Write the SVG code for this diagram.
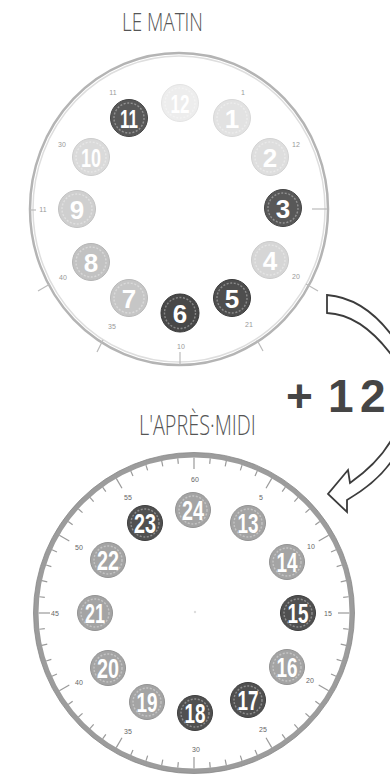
<svg xmlns="http://www.w3.org/2000/svg" xmlns:xlink="http://www.w3.org/1999/xlink" width="390" height="777" viewBox="0 0 390 777">
<style>
.title{font-family:"Open Sans","DejaVu Sans",sans-serif;font-weight:300;fill:#555;}
.d{font-family:"Liberation Sans",Arial,sans-serif;font-weight:bold;fill:#fff;text-anchor:middle;}
.ring{fill:none;stroke:#fff;stroke-opacity:0.35;stroke-width:1.4;stroke-dasharray:2 1.6;}
.m{font-family:"Liberation Sans",Arial,sans-serif;font-size:7px;fill:#666;text-anchor:middle;}
.mt{font-family:"Liberation Sans",Arial,sans-serif;font-size:7px;fill:#999;text-anchor:middle;}
.tk{stroke:#9a9a9a;stroke-width:1.2;}
.tkt{stroke:#bbb;stroke-width:1.2;}
.arrow{fill:#fff;stroke:#3c3c3c;stroke-width:1.8;stroke-linejoin:miter;}
.dark{fill:#505050;stroke:#3e3e3e;stroke-width:1;}
.mid{fill:#a4a4a4;stroke:#939393;stroke-width:1;}
</style>
<defs>
<line id="tk" class="tk" x1="194" y1="457.5" x2="194" y2="463"/>
<line id="tkM" class="tk" x1="194" y1="457.5" x2="194" y2="469"/>
</defs>

<!-- Titles -->
<text id="title-matin" class="title" transform="scale(0.66 1)" x="184.8" y="31" font-size="26" textLength="122.7" lengthAdjust="spacingAndGlyphs">LE MATIN</text>
<text id="title-apresmidi" class="title" transform="scale(0.66 1)" x="210.6" y="435" font-size="27" textLength="177" lengthAdjust="spacingAndGlyphs">L'APRÈS·MIDI</text>

<!-- Top clock -->
<g id="clock-matin">
<ellipse cx="179" cy="209" rx="149" ry="156" fill="#fff" stroke="#b4b4b4" stroke-width="2.5"/>
<ellipse cx="179" cy="209" rx="146" ry="153" fill="none" stroke="#dedede" stroke-width="1.5"/>
<line class="tkt" x1="180" y1="352" x2="180" y2="365"/>
<line class="tkt" x1="103" y1="340" x2="97" y2="352"/>
<line class="tkt" x1="257" y1="340" x2="263" y2="351"/>
<line class="tkt" x1="50" y1="284" x2="38" y2="291"/>
<line class="tkt" x1="306" y1="284" x2="318" y2="291"/>
<line class="tkt" x1="312" y1="209" x2="327" y2="209"/>
<line class="tkt" x1="36" y1="210" x2="30" y2="210"/>
<text class="mt" x="113" y="95">11</text>
<text class="mt" x="243" y="95">1</text>
<text class="mt" x="296" y="147">12</text>
<text class="mt" x="62" y="147">30</text>
<text class="mt" x="43" y="212">11</text>
<text class="mt" x="63" y="280">40</text>
<text class="mt" x="112" y="329">35</text>
<text class="mt" x="181" y="349">10</text>
<text class="mt" x="249" y="327">21</text>
<text class="mt" x="296" y="279">20</text>
</g>

<g id="h12"><circle cx="180" cy="103" r="18.5" fill="#ededed" stroke="#e4e4e4"/><circle class="ring" cx="180" cy="103" r="15"/><text class="d" x="180" y="112.5" font-size="26" textLength="19" lengthAdjust="spacingAndGlyphs">12</text></g>
<g id="h1"><circle cx="232" cy="118" r="18.5" fill="#e2e2e2" stroke="#d8d8d8"/><circle class="ring" cx="232" cy="118" r="15"/><text class="d" x="232" y="127.5" font-size="26">1</text></g>
<g id="h2"><circle cx="270" cy="157" r="18.5" fill="#dedede" stroke="#d2d2d2"/><circle class="ring" cx="270" cy="157" r="15"/><text class="d" x="270" y="166.5" font-size="26">2</text></g>
<g id="h3"><circle cx="283" cy="208" r="18.5" fill="#585858" stroke="#444"/><circle class="ring" cx="283" cy="208" r="15"/><text class="d" x="283" y="217.5" font-size="26">3</text></g>
<g id="h4"><circle cx="270" cy="260" r="18.5" fill="#d6d6d6" stroke="#cacaca"/><circle class="ring" cx="270" cy="260" r="15"/><text class="d" x="270" y="269.5" font-size="26">4</text></g>
<g id="h5"><circle cx="232" cy="298" r="18.5" fill="#4e4e4e" stroke="#3a3a3a"/><circle class="ring" cx="232" cy="298" r="15"/><text class="d" x="232" y="307.5" font-size="26">5</text></g>
<g id="h6"><circle cx="180" cy="313" r="19" fill="#484848" stroke="#363636"/><circle class="ring" cx="180" cy="313" r="15.5"/><text class="d" x="180" y="322.5" font-size="26">6</text></g>
<g id="h7"><circle cx="129" cy="298" r="18.5" fill="#c6c6c6" stroke="#b8b8b8"/><circle class="ring" cx="129" cy="298" r="15"/><text class="d" x="129" y="307.5" font-size="26">7</text></g>
<g id="h8"><circle cx="91" cy="262" r="18.5" fill="#c2c2c2" stroke="#b4b4b4"/><circle class="ring" cx="91" cy="262" r="15"/><text class="d" x="91" y="271.5" font-size="26">8</text></g>
<g id="h9"><circle cx="77" cy="209" r="18.5" fill="#cfcfcf" stroke="#c2c2c2"/><circle class="ring" cx="77" cy="209" r="15"/><text class="d" x="77" y="218.5" font-size="26">9</text></g>
<g id="h10"><circle cx="91" cy="157" r="18.5" fill="#dadada" stroke="#cdcdcd"/><circle class="ring" cx="91" cy="157" r="15"/><text class="d" x="91" y="166.5" font-size="26" textLength="20" lengthAdjust="spacingAndGlyphs">10</text></g>
<g id="h11"><circle cx="129" cy="118" r="18.5" fill="#585858" stroke="#444"/><circle class="ring" cx="129" cy="118" r="15"/><text class="d" x="129" y="127.5" font-size="26" textLength="18" lengthAdjust="spacingAndGlyphs">11</text></g>

<!-- Connectors: curved arrows -->
<g id="connectors">
<path class="arrow" d="M327,295 C352,297 374,311 393,337 L393,357 C374,331 352,314 327,313 Z"/>
<path class="arrow" d="M393,437 C383,456 367,471 350,483 L348,470 L328,494 L347,512 L347,500 C366,489 382,476 393,459 Z"/>
</g>
<text id="plus12" x="286" y="412" font-family="'Liberation Sans',Arial,sans-serif" font-weight="bold" font-size="46" fill="#454545"><tspan x="286">+</tspan><tspan x="328">1</tspan><tspan x="360">2</tspan></text>

<!-- Bottom clock -->
<g id="clock-apresmidi">
<circle cx="194" cy="613" r="158" fill="#fff" stroke="#9c9c9c" stroke-width="5"/>
<circle cx="194" cy="613" r="160.5" fill="none" stroke="#888" stroke-width="0.8"/>
<use xlink:href="#tkM"/>
<use xlink:href="#tk" transform="rotate(6 194 613)"/>
<use xlink:href="#tk" transform="rotate(12 194 613)"/>
<use xlink:href="#tk" transform="rotate(18 194 613)"/>
<use xlink:href="#tk" transform="rotate(24 194 613)"/>
<use xlink:href="#tkM" transform="rotate(30 194 613)"/>
<use xlink:href="#tk" transform="rotate(36 194 613)"/>
<use xlink:href="#tk" transform="rotate(42 194 613)"/>
<use xlink:href="#tk" transform="rotate(48 194 613)"/>
<use xlink:href="#tk" transform="rotate(54 194 613)"/>
<use xlink:href="#tkM" transform="rotate(60 194 613)"/>
<use xlink:href="#tk" transform="rotate(66 194 613)"/>
<use xlink:href="#tk" transform="rotate(72 194 613)"/>
<use xlink:href="#tk" transform="rotate(78 194 613)"/>
<use xlink:href="#tk" transform="rotate(84 194 613)"/>
<use xlink:href="#tkM" transform="rotate(90 194 613)"/>
<use xlink:href="#tk" transform="rotate(96 194 613)"/>
<use xlink:href="#tk" transform="rotate(102 194 613)"/>
<use xlink:href="#tk" transform="rotate(108 194 613)"/>
<use xlink:href="#tk" transform="rotate(114 194 613)"/>
<use xlink:href="#tkM" transform="rotate(120 194 613)"/>
<use xlink:href="#tk" transform="rotate(126 194 613)"/>
<use xlink:href="#tk" transform="rotate(132 194 613)"/>
<use xlink:href="#tk" transform="rotate(138 194 613)"/>
<use xlink:href="#tk" transform="rotate(144 194 613)"/>
<use xlink:href="#tkM" transform="rotate(150 194 613)"/>
<use xlink:href="#tk" transform="rotate(156 194 613)"/>
<use xlink:href="#tk" transform="rotate(162 194 613)"/>
<use xlink:href="#tk" transform="rotate(168 194 613)"/>
<use xlink:href="#tk" transform="rotate(174 194 613)"/>
<use xlink:href="#tkM" transform="rotate(180 194 613)"/>
<use xlink:href="#tk" transform="rotate(186 194 613)"/>
<use xlink:href="#tk" transform="rotate(192 194 613)"/>
<use xlink:href="#tk" transform="rotate(198 194 613)"/>
<use xlink:href="#tk" transform="rotate(204 194 613)"/>
<use xlink:href="#tkM" transform="rotate(210 194 613)"/>
<use xlink:href="#tk" transform="rotate(216 194 613)"/>
<use xlink:href="#tk" transform="rotate(222 194 613)"/>
<use xlink:href="#tk" transform="rotate(228 194 613)"/>
<use xlink:href="#tk" transform="rotate(234 194 613)"/>
<use xlink:href="#tkM" transform="rotate(240 194 613)"/>
<use xlink:href="#tk" transform="rotate(246 194 613)"/>
<use xlink:href="#tk" transform="rotate(252 194 613)"/>
<use xlink:href="#tk" transform="rotate(258 194 613)"/>
<use xlink:href="#tk" transform="rotate(264 194 613)"/>
<use xlink:href="#tkM" transform="rotate(270 194 613)"/>
<use xlink:href="#tk" transform="rotate(276 194 613)"/>
<use xlink:href="#tk" transform="rotate(282 194 613)"/>
<use xlink:href="#tk" transform="rotate(288 194 613)"/>
<use xlink:href="#tk" transform="rotate(294 194 613)"/>
<use xlink:href="#tkM" transform="rotate(300 194 613)"/>
<use xlink:href="#tk" transform="rotate(306 194 613)"/>
<use xlink:href="#tk" transform="rotate(312 194 613)"/>
<use xlink:href="#tk" transform="rotate(318 194 613)"/>
<use xlink:href="#tk" transform="rotate(324 194 613)"/>
<use xlink:href="#tkM" transform="rotate(330 194 613)"/>
<use xlink:href="#tk" transform="rotate(336 194 613)"/>
<use xlink:href="#tk" transform="rotate(342 194 613)"/>
<use xlink:href="#tk" transform="rotate(348 194 613)"/>
<use xlink:href="#tk" transform="rotate(354 194 613)"/>
<text class="m" x="195" y="482">60</text>
<text class="m" x="261" y="500">5</text>
<text class="m" x="311" y="549">10</text>
<text class="m" x="328" y="616">15</text>
<text class="m" x="310" y="683">20</text>
<text class="m" x="263" y="732">25</text>
<text class="m" x="196" y="752">30</text>
<text class="m" x="128" y="734">35</text>
<text class="m" x="79" y="685">40</text>
<text class="m" x="55" y="616">45</text>
<text class="m" x="79" y="550">50</text>
<text class="m" x="128" y="500">55</text>
<circle cx="195" cy="612" r="1.2" fill="#ddd"/>
</g>

<g id="h24"><circle class="mid" cx="193" cy="510" r="17.5"/><circle class="ring" cx="193" cy="510" r="14"/><text class="d" x="193" y="519.5" font-size="27" textLength="22" lengthAdjust="spacingAndGlyphs">24</text></g>
<g id="h13"><circle class="mid" cx="248" cy="523" r="17.5"/><circle class="ring" cx="248" cy="523" r="14"/><text class="d" x="248" y="532.5" font-size="27" textLength="21" lengthAdjust="spacingAndGlyphs">13</text></g>
<g id="h14"><circle class="mid" cx="287" cy="562" r="17.5"/><circle class="ring" cx="287" cy="562" r="14"/><text class="d" x="287" y="571.5" font-size="27" textLength="21" lengthAdjust="spacingAndGlyphs">14</text></g>
<g id="h15"><circle class="dark" cx="298" cy="613" r="17.5"/><circle class="ring" cx="298" cy="613" r="14"/><text class="d" x="298" y="622.5" font-size="27" textLength="21" lengthAdjust="spacingAndGlyphs">15</text></g>
<g id="h16"><circle class="mid" cx="287" cy="667" r="17.5"/><circle class="ring" cx="287" cy="667" r="14"/><text class="d" x="287" y="676.5" font-size="27" textLength="21" lengthAdjust="spacingAndGlyphs">16</text></g>
<g id="h17"><circle class="dark" cx="248" cy="700" r="17.5"/><circle class="ring" cx="248" cy="700" r="14"/><text class="d" x="248" y="709.5" font-size="27" textLength="21" lengthAdjust="spacingAndGlyphs">17</text></g>
<g id="h18"><circle class="dark" cx="195" cy="713" r="17.5"/><circle class="ring" cx="195" cy="713" r="14"/><text class="d" x="195" y="722.5" font-size="27" textLength="21" lengthAdjust="spacingAndGlyphs">18</text></g>
<g id="h19"><circle class="mid" cx="147" cy="702" r="17.5"/><circle class="ring" cx="147" cy="702" r="14"/><text class="d" x="147" y="711.5" font-size="27" textLength="21" lengthAdjust="spacingAndGlyphs">19</text></g>
<g id="h20"><circle class="mid" cx="108" cy="668" r="17.5"/><circle class="ring" cx="108" cy="668" r="14"/><text class="d" x="108" y="677.5" font-size="27" textLength="22" lengthAdjust="spacingAndGlyphs">20</text></g>
<g id="h21"><circle class="mid" cx="95" cy="613" r="17.5"/><circle class="ring" cx="95" cy="613" r="14"/><text class="d" x="95" y="622.5" font-size="27" textLength="20" lengthAdjust="spacingAndGlyphs">21</text></g>
<g id="h22"><circle class="mid" cx="108" cy="560" r="17.5"/><circle class="ring" cx="108" cy="560" r="14"/><text class="d" x="108" y="569.5" font-size="27" textLength="22" lengthAdjust="spacingAndGlyphs">22</text></g>
<g id="h23"><circle class="dark" cx="145" cy="523" r="17.5"/><circle class="ring" cx="145" cy="523" r="14"/><text class="d" x="145" y="532.5" font-size="27" textLength="22" lengthAdjust="spacingAndGlyphs">23</text></g>
</svg>
